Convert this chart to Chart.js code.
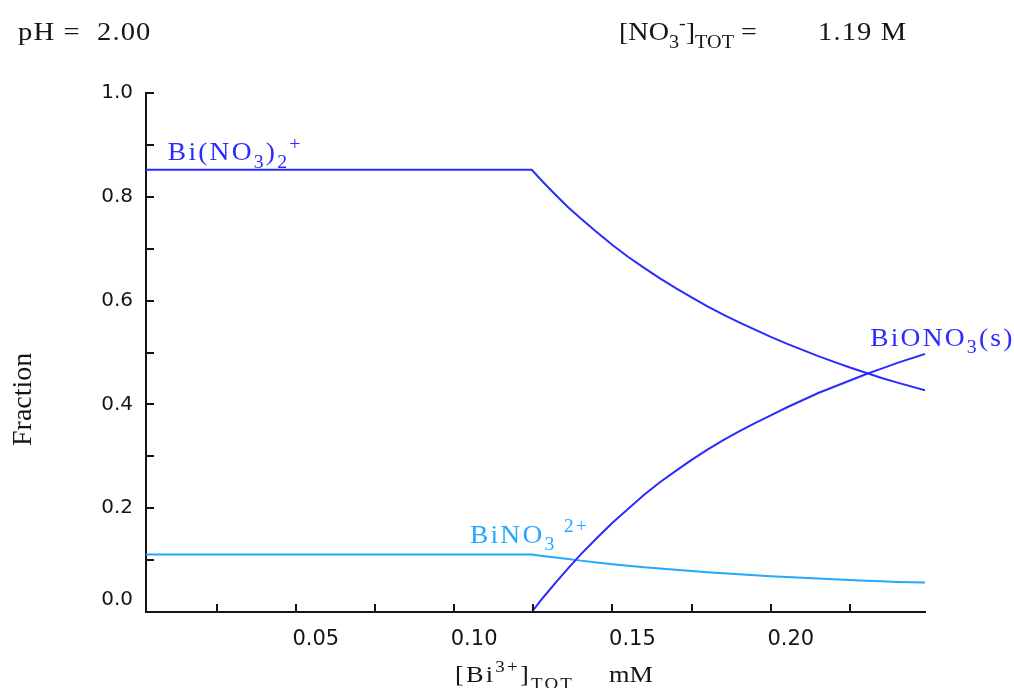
<!DOCTYPE html>
<html><head><meta charset="utf-8">
<script src="https://cdn.jsdelivr.net/npm/chart.js@4.4.0/dist/chart.umd.min.js"></script>
<style>html,body{margin:0;padding:0;background:#fff;}canvas{display:block;}</style>
</head><body>
<canvas id="c" width="1014" height="688"></canvas>
<script>
// ---- values ----
const xMin = 0.0027, xMax = 0.2487;
const yMin = 0, yMax = 1;
const xStep = 0.025, yStep = 0.1;

// total Bi(III) concentration, mM
const biTot = [0.0027, 0.1245, 0.128, 0.132, 0.136, 0.140, 0.145, 0.150, 0.155, 0.160, 0.165, 0.170, 0.175,
               0.180, 0.185, 0.190, 0.195, 0.200, 0.205, 0.210, 0.215, 0.220, 0.225, 0.230, 0.235, 0.240, 0.2487];

// fraction Bi(NO3)2+
const fracBiNO3_2 = [0.852, 0.852, 0.829, 0.804, 0.780, 0.758, 0.732, 0.707, 0.684, 0.663, 0.643, 0.624, 0.606,
                     0.589, 0.573, 0.558, 0.544, 0.530, 0.517, 0.505, 0.493, 0.482, 0.471, 0.461, 0.451, 0.442, 0.427];

// fraction BiONO3(s)
const fracBiONO3s = [null, 0, 0.027, 0.056, 0.084, 0.111, 0.142, 0.172, 0.199, 0.226, 0.250, 0.272, 0.293,
                     0.313, 0.331, 0.348, 0.364, 0.379, 0.394, 0.408, 0.422, 0.434, 0.446, 0.458, 0.469, 0.480, 0.497];

// fraction BiNO3 2+
const fracBiNO3 = [0.111, 0.111, 0.108, 0.105, 0.102, 0.099, 0.0955, 0.0922, 0.0893, 0.0864, 0.0838, 0.0815, 0.0792,
                   0.0768, 0.0748, 0.0728, 0.0709, 0.0691, 0.0674, 0.0659, 0.0644, 0.0630, 0.0616, 0.0603, 0.0591, 0.0580, 0.0568];

const DARK = '#2b2bff', LIGHT = '#25a8ff', INK = '#151515';

function pts(xs, ys) { return xs.map((x, i) => ({x, y: ys[i]})); }

function rich(ctx, x, y, parts, size, color, o) {
  o = o || {};
  ctx.save();
  ctx.translate(x, y);
  if (o.rot) ctx.rotate(o.rot);
  ctx.scale(o.sx || 1, 1);
  ctx.fillStyle = color;
  ctx.textBaseline = 'alphabetic';
  ctx.textAlign = 'left';
  ctx.letterSpacing = (o.ls || 0) + 'px';
  let cx = 0;
  for (const p of parts) {
    const s = p.s ? size * 0.72 : size;
    const dy = p.s === 'sub' ? size * 0.3 : (p.s === 'sup' ? -size * 0.42 : 0);
    ctx.font = s + 'px "Liberation Serif"';
    ctx.fillText(p.t, cx, dy);
    cx += ctx.measureText(p.t).width;
  }
  ctx.restore();
}

const decor = {
  id: 'decor',
  afterDraw(chart) {
    const {ctx, chartArea: a, scales: {x, y}} = chart;
    ctx.save();
    ctx.strokeStyle = INK; ctx.lineWidth = 2;
    ctx.beginPath();
    x.ticks.forEach(t => { const p = Math.round(x.getPixelForValue(t.value)); ctx.moveTo(p, a.bottom); ctx.lineTo(p, a.bottom - 8); });
    y.ticks.forEach(t => { const p = Math.round(y.getPixelForValue(t.value)); ctx.moveTo(a.left, p); ctx.lineTo(a.left + 8, p); });
    ctx.stroke();
    ctx.restore();

    // header
    rich(ctx, 18, 40, [{t:'pH ='}], 26, INK, {sx:1.1, ls:1});
    rich(ctx, 97, 40, [{t:'2.00'}], 26, INK, {sx:1.1, ls:1});
    rich(ctx, 619, 40, [{t:'[NO'},{t:'3',s:'sub'},{t:'-',s:'sup'},{t:']'},{t:'TOT',s:'sub'},{t:' ='}], 26, INK, {sx:1.08});
    rich(ctx, 818, 40, [{t:'1.19 M'}], 26, INK, {sx:1.1, ls:1});

    // axis titles
    rich(ctx, 31, 446, [{t:'Fraction'}], 28, INK, {rot:-Math.PI/2});
    rich(ctx, 455, 682, [{t:'[Bi'},{t:'3+',s:'sup'},{t:']'},{t:'TOT',s:'sub'}], 24, INK, {sx:1.1, ls:2});
    rich(ctx, 609, 682, [{t:'mM'}], 24, INK, {sx:1.1});

    // curve labels
    rich(ctx, x.getPixelForValue(0.0096), y.getPixelForValue(0.870),
      [{t:'Bi(NO'},{t:'3',s:'sub'},{t:')'},{t:'2',s:'sub'},{t:'+',s:'sup'}], 25, DARK, {sx:1.1, ls:2});
    rich(ctx, x.getPixelForValue(0.2314), y.getPixelForValue(0.513),
      [{t:'BiONO'},{t:'3',s:'sub'},{t:'(s)'}], 25, DARK, {sx:1.1, ls:2});
    rich(ctx, x.getPixelForValue(0.105), y.getPixelForValue(0.133),
      [{t:'BiNO'},{t:'3',s:'sub'},{t:' 2+',s:'sup'}], 25, LIGHT, {sx:1.1, ls:2});
  }
};

const lineStyle = {borderWidth: 2, pointRadius: 0, tension: 0, fill: false, spanGaps: false};

new Chart(document.getElementById('c'), {
  type: 'line',
  data: {
    datasets: [
      Object.assign({label:'Bi(NO3)2+', data: pts(biTot, fracBiNO3_2), borderColor: DARK}, lineStyle),
      Object.assign({label:'BiONO3(s)', data: pts(biTot, fracBiONO3s), borderColor: DARK}, lineStyle),
      Object.assign({label:'BiNO3 2+', data: pts(biTot, fracBiNO3), borderColor: LIGHT}, lineStyle)
    ]
  },
  options: {
    responsive: false, animation: false, devicePixelRatio: 1,
    layout: {padding: {top: 93, right: 89, bottom: 0, left: 0}},
    plugins: {legend: {display: false}, tooltip: {enabled: false}},
    scales: {
      x: {
        type: 'linear', min: xMin, max: xMax,
        afterFit: s => { s.height = 76; },
        border: {display: true, color: INK, width: 2},
        grid: {display: true, drawOnChartArea: false, drawTicks: false},
        ticks: {
          stepSize: xStep, includeBounds: false, autoSkip: false, maxRotation: 0, minRotation: 0,
          labelOffset: 20, padding: 15, color: INK, font: {family: 'DejaVu Sans', size: 21},
          callback: v => (Math.round(v * 1000) % 50 === 0) ? v.toFixed(2) : ''
        }
      },
      y: {
        type: 'linear', min: yMin, max: yMax,
        afterFit: s => { s.width = 146; },
        border: {display: true, color: INK, width: 2},
        grid: {display: true, drawOnChartArea: false, drawTicks: false},
        ticks: {
          stepSize: yStep, autoSkip: false, padding: 13, color: INK, font: {family: 'DejaVu Sans', size: 20},
          callback: v => {
            if (Math.round(v * 10) % 2 !== 0) return '';
            return Math.abs(v) < 1e-9 ? ['0.0', ''] : v.toFixed(1);
          }
        }
      }
    }
  },
  plugins: [decor]
});
</script>
</body></html>
